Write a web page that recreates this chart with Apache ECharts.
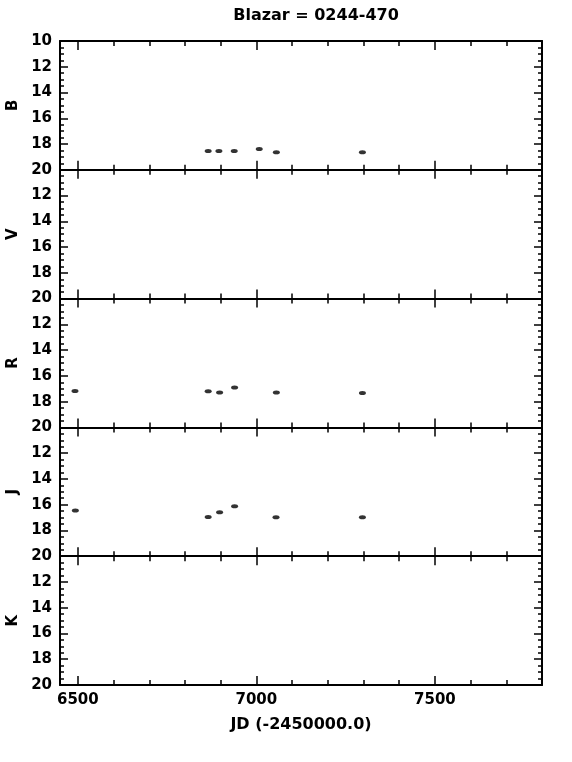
<!DOCTYPE html>
<html>
<head>
<meta charset="utf-8">
<script src="https://cdn.jsdelivr.net/npm/echarts@6/dist/echarts.min.js"></script>
<style>html,body{margin:0;padding:0;background:#fff}#c{width:572px;height:762px}</style>
</head>
<body>
<div id="c"></div>
<script>
// ---- data ----
var titleText = 'Blazar = 0244-470';
var xAxisTitle = 'JD (-2450000.0)';
var bands = ['B', 'V', 'R', 'J', 'K'];
var B_jd = [6865, 6895, 6938, 7008, 7056, 7297];
var B_mag = [18.54, 18.54, 18.54, 18.38, 18.64, 18.64];
var V_jd = [];
var V_mag = [];
var R_jd = [6492, 6865, 6897, 6939, 7056, 7297];
var R_mag = [17.18, 17.2, 17.3, 16.9, 17.3, 17.32];
var J_jd = [6493, 6865, 6897, 6939, 7055, 7297];
var J_mag = [16.46, 16.95, 16.59, 16.12, 16.98, 16.97];
var K_jd = [];
var K_mag = [];
var xMajorTicks = [6500, 7000, 7500];
var xMinorTicks = [6500, 6600, 6700, 6800, 6900, 7000, 7100, 7200, 7300, 7400, 7500, 7600, 7700];
var xMin = 6450, xMax = 7800;
var yMin = 10, yMax = 20;

var bandData = {B: [B_jd, B_mag], V: [V_jd, V_mag], R: [R_jd, R_mag], J: [J_jd, J_mag], K: [K_jd, K_mag]};

// ---- layout ----
var FONT = 'DejaVu Sans';
var gLeft = 60, gRight = 30, gTop = 41, pH = 128.8;
var grids = [], xAxes = [], yAxes = [], series = [];
var lineStyle = {color: '#000', width: 2};

bands.forEach(function (b, i) {
  var top = gTop + i * pH;
  var last = i === bands.length - 1;
  var gm = grids.length;
  grids.push({left: gLeft, right: gRight, top: top, height: pH, containLabel: false, outerBoundsMode: 'none'});
  var gn = grids.length;
  grids.push({left: gLeft, right: gRight, top: top, height: pH, containLabel: false, outerBoundsMode: 'none'});

  var xBase = {
    type: 'value', min: xMin, max: xMax, gridIndex: gm,
    axisLine: {show: true, onZero: false, lineStyle: lineStyle},
    splitLine: {show: false},
    axisTick: {show: true, inside: true, length: 9, lineStyle: {color: '#000', width: 1.5}, customValues: xMajorTicks}
  };
  var xBottomIdx = xAxes.length;
  xAxes.push(Object.assign({}, xBase, {
    position: 'bottom',
    axisLabel: {show: last, customValues: xMajorTicks, formatter: function (v) { return String(v); },
      color: '#000', fontFamily: FONT, fontWeight: 'bold', fontSize: 15, margin: 8},
    name: last ? xAxisTitle : '', nameLocation: 'middle', nameGap: 32,
    nameTextStyle: {color: '#000', fontFamily: FONT, fontWeight: 'bold', fontSize: 16}
  }));
  xAxes.push(Object.assign({}, xBase, {position: 'top', axisLabel: {show: false}}));
  var xMinorBase = {
    type: 'value', min: xMin, max: xMax, gridIndex: gn,
    axisLine: {show: false}, splitLine: {show: false}, axisLabel: {show: false},
    axisTick: {show: true, inside: true, length: 5, lineStyle: {color: '#000', width: 1.5}, customValues: xMinorTicks}
  };
  xAxes.push(Object.assign({}, xMinorBase, {position: 'bottom'}));
  xAxes.push(Object.assign({}, xMinorBase, {position: 'top'}));

  var yBase = {
    type: 'value', min: yMin, max: yMax, interval: 2, inverse: true, gridIndex: gm,
    axisLine: {show: true, onZero: false, lineStyle: lineStyle},
    splitLine: {show: false},
    axisTick: {show: true, inside: true, length: 8, lineStyle: {color: '#000', width: 1.5}},
    minorTick: {show: true, splitNumber: 4, length: 4, lineStyle: {color: '#000', width: 1.5}}
  };
  var yLeftIdx = yAxes.length;
  yAxes.push(Object.assign({}, yBase, {
    position: 'left',
    axisLabel: {show: true, showMinLabel: i === 0, color: '#000', fontFamily: FONT, fontWeight: 'bold', fontSize: 15, margin: 8},
    name: b, nameLocation: 'middle', nameGap: 35, nameRotate: 90,
    nameTextStyle: {color: '#000', fontFamily: FONT, fontWeight: 'bold', fontSize: 15}
  }));
  yAxes.push(Object.assign({}, yBase, {position: 'right', axisLabel: {show: false}}));
  yAxes.push({type: 'value', min: yMin, max: yMax, gridIndex: gn, show: false});

  var d = bandData[b];
  var pts = d[0].map(function (x, k) { return [x, d[1][k]]; });
  series.push({
    type: 'scatter', xAxisIndex: xBottomIdx, yAxisIndex: yLeftIdx,
    data: pts, symbol: 'circle', symbolSize: [7, 4],
    itemStyle: {color: '#000'}, silent: true, animation: false
  });
});

var chart = echarts.init(document.getElementById('c'), null, {renderer: 'canvas'});
chart.setOption({
  backgroundColor: '#fff',
  animation: false,
  title: {
    text: titleText, left: 311, top: 3, textAlign: 'center',
    textStyle: {color: '#000', fontFamily: FONT, fontWeight: 'bold', fontSize: 16}
  },
  grid: grids,
  xAxis: xAxes,
  yAxis: yAxes,
  series: series
});
</script>
</body>
</html>
